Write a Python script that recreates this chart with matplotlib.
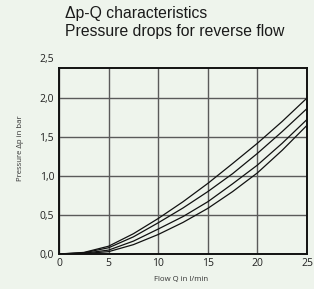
import matplotlib
matplotlib.use('Agg')
from matplotlib import pyplot as plt

# flow in l/min and pressure drop in bar
flow = [0, 2.5, 5, 7.5, 10, 12.5, 15, 17.5, 20, 22.5, 25]
dp_curve1 = [0, 0.02, 0.10, 0.26, 0.455, 0.67, 0.905, 1.16, 1.42, 1.70, 2.00]
dp_curve2 = [0, 0.015, 0.08, 0.22, 0.40, 0.59, 0.80, 1.03, 1.29, 1.57, 1.865]
dp_curve3 = [0, 0.01, 0.05, 0.165, 0.32, 0.48, 0.67, 0.90, 1.14, 1.42, 1.725]
dp_curve4 = [0, 0.005, 0.03, 0.12, 0.25, 0.405, 0.585, 0.80, 1.04, 1.33, 1.65]

x_ticks = [0, 5, 10, 15, 20, 25]
y_ticks = [0, 0.5, 1.0, 1.5, 2.0]
y_tick_labels = ['0,0', '0,5', '1,0', '1,5', '2,0']

bg = '#eef4ec'
tick_font = 'Open Sans'
tick_size = 7.5

fig = plt.figure(figsize=(3.14, 2.89), dpi=100, facecolor=bg)
ax = fig.add_axes([59 / 314, 35 / 289, 248 / 314, 186 / 289], facecolor=bg)

for dp in [dp_curve1, dp_curve2, dp_curve3, dp_curve4]:
    ax.plot(flow, dp, color='#111111', lw=0.9, zorder=3)

ax.set_xlim(0, 25)
ax.set_ylim(0, 2.385)
ax.set_xticks(x_ticks)
ax.set_xticklabels([str(t) for t in x_ticks], fontsize=tick_size, family=tick_font)
ax.set_yticks(y_ticks)
ax.set_yticklabels(y_tick_labels, fontsize=tick_size, family=tick_font)
ax.tick_params(length=0, pad=3.5, colors='#222222')
ax.tick_params(axis='x', pad=3)
# top label sits above the frame in the original
ax.annotate('2,5', xy=(0, 2.5), xycoords=('axes fraction', 'data'),
            xytext=(-3.5, 0), textcoords='offset points',
            ha='right', va='center', fontsize=tick_size, family=tick_font,
            color='#222222', annotation_clip=False)

ax.grid(True, color='#5a5a5a', lw=1.0)
ax.set_axisbelow(True)
for sp in ax.spines.values():
    sp.set_linewidth(1.4)
    sp.set_color('#111111')

fig.text(181 / 314, 1 - 280 / 289, 'Flow Q in l/min', ha='center', va='center',
         fontsize=5.6, family=tick_font, color='#333333')
fig.text(21 / 314, 1 - 148 / 289, 'Pressure Δp in bar', ha='center', va='center',
         rotation=90, fontsize=5.6, family=tick_font, color='#333333')

fig.text(65 / 314, 1 - 18.3 / 289, 'Δp-Q characteristics', ha='left', va='baseline',
         fontsize=11.3, family='Liberation Sans', color='#1a1a1a')
fig.text(65 / 314, 1 - 36 / 289, 'Pressure drops for reverse flow', ha='left', va='baseline',
         fontsize=11.3, family='Liberation Sans', color='#1a1a1a')

fig.savefig('out.png', dpi=100, facecolor=bg)
